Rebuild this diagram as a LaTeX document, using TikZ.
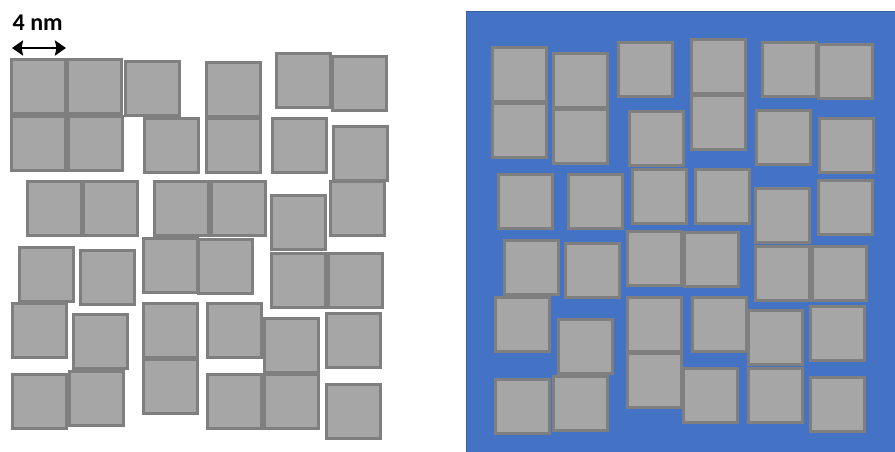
\documentclass[tikz,border=0pt]{standalone}
\usepackage{fontspec}
\setmainfont{Carlito}
\usetikzlibrary{arrows.meta}
\definecolor{npfill}{HTML}{A6A6A6}
\definecolor{npline}{HTML}{7F7F7F}
\definecolor{film}{HTML}{4472C4}
\definecolor{filmline}{HTML}{3A5F9E}

\begin{document}
\begin{tikzpicture}[x=1pt, y=-1pt,
  np/.style={draw=npline, fill=npfill, line width=3.3pt, outer sep=1.65pt, inner sep=0pt, minimum size=53.7pt, anchor=north west},
  bar/.style={{Stealth[length=11pt, width=15pt, inset=1.5pt]}-{Stealth[length=11pt, width=15pt, inset=1.5pt]}, line width=2.7pt}]
  \useasboundingbox (0,0) rectangle (895,451);
  % scale bar
  \node[anchor=base west, inner sep=0pt, font=\fontsize{24}{28}\selectfont\bfseries] (scale) at (12.5,30) {4 nm};
  \coordinate (bl) at (12,48); \coordinate (br) at (66,48);
  \draw[bar] (bl) -- (br);
  % left: bare nanoparticles
  \node[np] (l11) at (10,58) {}; \node[np] (l12) at (66,58) {}; \node[np] (l13) at (124,60) {};
  \node[np] (l14) at (205,61) {}; \node[np] (l15) at (275,52) {}; \node[np] (l16) at (331,55) {};
  \node[np] (l21) at (10,115) {}; \node[np] (l22) at (67,115) {}; \node[np] (l23) at (143,117) {};
  \node[np] (l24) at (205,117) {}; \node[np] (l25) at (271,117) {}; \node[np] (l26) at (332,125) {};
  \node[np] (l31) at (26,180) {}; \node[np] (l32) at (82,180) {}; \node[np] (l33) at (153,180) {};
  \node[np] (l34) at (210,180) {}; \node[np] (l35) at (270,194) {}; \node[np] (l36) at (329,180) {};
  \node[np] (l41) at (18,246) {}; \node[np] (l42) at (79,249) {}; \node[np] (l43) at (142,237) {};
  \node[np] (l44) at (197,238) {}; \node[np] (l45) at (270,252) {}; \node[np] (l46) at (327,252) {};
  \node[np] (l51) at (11,302) {}; \node[np] (l52) at (72,313) {}; \node[np] (l53) at (142,302) {};
  \node[np] (l54) at (206,302) {}; \node[np] (l55) at (263,317) {}; \node[np] (l56) at (325,312) {};
  \node[np] (l61) at (11,373) {}; \node[np] (l62) at (68,370) {}; \node[np] (l63) at (142,358) {};
  \node[np] (l64) at (206,373) {}; \node[np] (l65) at (263,373) {}; \node[np] (l66) at (325,383) {};
  % right: nanoparticles in matrix
  \draw[fill=film, draw=filmline, line width=1pt] (466,11) rectangle (897,453);
  \node[np] (r11) at (491,46) {}; \node[np] (r12) at (552,52) {}; \node[np] (r13) at (617,41) {};
  \node[np] (r14) at (690,38) {}; \node[np] (r15) at (761,41) {}; \node[np] (r16) at (817,43) {};
  \node[np] (r21) at (491,102) {}; \node[np] (r22) at (552,108) {}; \node[np] (r23) at (628,110) {};
  \node[np] (r24) at (690,94) {}; \node[np] (r25) at (755,109) {}; \node[np] (r26) at (818,117) {};
  \node[np] (r31) at (497,173) {}; \node[np] (r32) at (567,173) {}; \node[np] (r33) at (631,168) {};
  \node[np] (r34) at (694,168) {}; \node[np] (r35) at (754,187) {}; \node[np] (r36) at (817,179) {};
  \node[np] (r41) at (503,239) {}; \node[np] (r42) at (564,242) {}; \node[np] (r43) at (626,230) {};
  \node[np] (r44) at (683,231) {}; \node[np] (r45) at (754,245) {}; \node[np] (r46) at (811,245) {};
  \node[np] (r51) at (494,296) {}; \node[np] (r52) at (557,318) {}; \node[np] (r53) at (626,296) {};
  \node[np] (r54) at (691,296) {}; \node[np] (r55) at (747,309) {}; \node[np] (r56) at (809,305) {};
  \node[np] (r61) at (494,378) {}; \node[np] (r62) at (552,375) {}; \node[np] (r63) at (626,352) {};
  \node[np] (r64) at (682,367) {}; \node[np] (r65) at (747,367) {}; \node[np] (r66) at (809,376) {};
\end{tikzpicture}
\end{document}
